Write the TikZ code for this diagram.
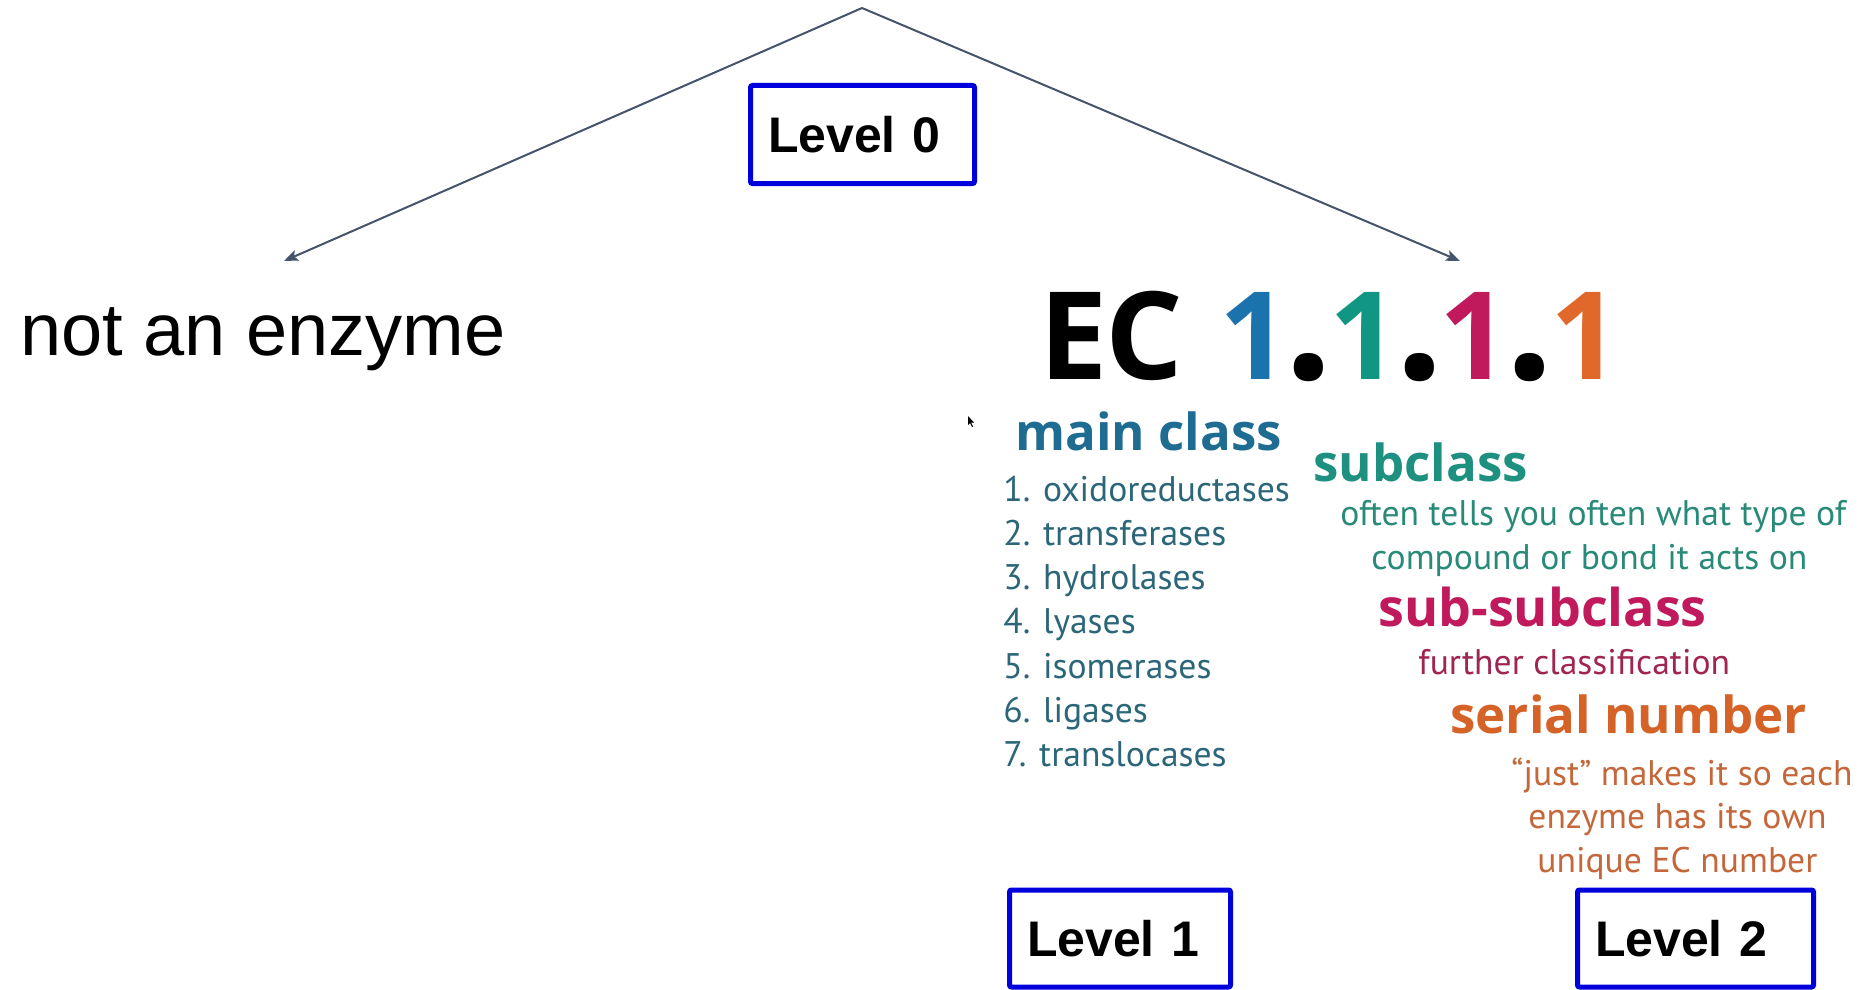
\documentclass[tikz,border=0pt]{standalone}
\usepackage{fontspec}
\setmainfont{Liberation Sans}
\newfontfamily\ecfont{PT Sans}
\newfontfamily\echeadfont{Open Sans}
\usetikzlibrary{arrows.meta}
\definecolor{arrowgray}{HTML}{44546A}
\definecolor{boxblue}{HTML}{0000DD}
\definecolor{ecblue}{HTML}{1B73AE}
\definecolor{ecteal}{HTML}{109682}
\definecolor{eccrimson}{HTML}{C0195C}
\definecolor{ecorange}{HTML}{E0682A}
\definecolor{mainblue}{HTML}{1E6C92}
\definecolor{listslate}{HTML}{2B6679}
\definecolor{subteal}{HTML}{1D9080}
\definecolor{subtext}{HTML}{2A8A78}
\definecolor{subsubtext}{HTML}{A02553}
\definecolor{serialtext}{HTML}{C4673A}
% enlarged full stop for the EC number
\newcommand\ecstop{\kern-2pt\scalebox{1.4}{.}\kern-2pt}
\tikzset{
  px/.style={x=0.5pt,y=-0.5pt},
  connector/.style={draw=arrowgray,line width=1pt,-{Stealth[length=7pt,width=5.5pt,inset=1.5pt]}},
  levelbox/.style={draw=boxblue,line width=2.5pt,rounded corners=1pt,fill=white,
    inner xsep=8.75pt,inner ysep=0pt,align=left,
    font=\fontsize{25pt}{30pt}\selectfont\bfseries},
  txt/.style={inner sep=0pt,anchor=base west},
  headline/.style={txt,font=\echeadfont\fontsize{25.5pt}{30pt}\selectfont\bfseries},
  bodyline/.style={txt,font=\ecfont\fontsize{17.8pt}{21pt}\selectfont},
}
\begin{document}
\begin{tikzpicture}[px]
\useasboundingbox (0,0) rectangle (1868,990);

% branching connectors
\coordinate (top) at (862,8);
\coordinate (leftend) at (284,261);
\coordinate (rightend) at (1460,261);
\draw[connector] (top) -- (leftend);
\draw[connector] (top) -- (rightend);

% left branch
\node[txt,font=\fontsize{37pt}{44pt}\selectfont] (nae) at (20,355) {not an enzyme};

% EC number graphic
\node[txt,font=\echeadfont\fontsize{61pt}{70pt}\selectfont\bfseries] (ec) at (1039,379)
  {E\kern-1pt C\kern2pt\ \textcolor{ecblue}{1}\ecstop\textcolor{ecteal}{1}\ecstop\textcolor{eccrimson}{1}\ecstop\textcolor{ecorange}{1}};

\fill (968,416) -- (968,425) -- (970,423) -- (972,427) -- (973,426.5) -- (971,422.5) -- (974,422.5) -- cycle;

\node[headline,text=mainblue] (main) at (1015,450) {main class};
\foreach \t [count=\i from 0] in {1. oxidoreductases,2. transferases,3. hydrolases,4. lyases,5. isomerases,6. ligases,7. translocases}
  \node[bodyline,text=listslate] (item\i) at (1003,{501+44.3*\i}) {\t};

\node[headline,text=subteal] (sub) at (1313,481) {subclass};
\node[bodyline,text=subtext] (subA) at (1340,525) {often tells you often what type of};
\node[bodyline,text=subtext] (subB) at (1371,569) {compound or bond it acts on};

\node[headline,text=eccrimson,font=\echeadfont\fontsize{26pt}{30pt}\selectfont\bfseries] (subsub) at (1378,626) {sub-subclass};
\node[bodyline,text=subsubtext] (subsubA) at (1418,674) {further classification};

\node[headline,text=ecorange!95!black] (serial) at (1450,733) {serial number};
\node[bodyline,text=serialtext] (serA) at (1511,785) {“just” makes it so each};
\node[bodyline,text=serialtext] (serB) at (1528,828) {enzyme has its own};
\node[bodyline,text=serialtext] (serC) at (1537,872) {unique EC number};

% level tags
\node[levelbox,text width=94.5pt,minimum width=112pt,minimum height=49pt] (lvl0) at (862.5,134.5) {Level 0};
\node[levelbox,text width=93pt,minimum width=110.5pt,minimum height=48.5pt] (lvl1) at (1120,938.5) {Level 1};
\node[levelbox,text width=100.5pt,minimum width=118pt,minimum height=48.5pt] (lvl2) at (1695.5,938.5) {Level 2};
\end{tikzpicture}
\end{document}
